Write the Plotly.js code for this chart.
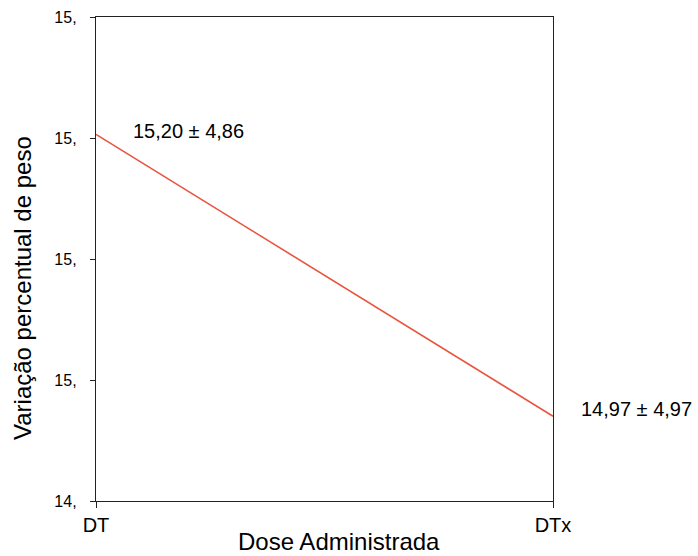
<!DOCTYPE html>
<html><head><meta charset="utf-8">
<script src="https://cdn.plot.ly/plotly-3.0.1.min.js"></script>
<style>body{margin:0;background:#fff}#c{width:698px;height:556px}</style>
</head><body><div id="c"></div>
<script>
const categories = ["DT", "DTx"];
const values = [15.203, 14.97];
const labels = ["15,20 ± 4,86", "14,97 ± 4,97"];
const yTickVals = [14.9, 15.0, 15.1, 15.2, 15.3];
const yTickText = ["14,", "15,", "15,", "15,", "15,"];
const xTitle = "Dose Administrada";
const yTitle = "Variação percentual de peso";

const font = "Liberation Sans, Arial, sans-serif";
const trace = {
  x: [0, 1], y: values, type: "scatter", mode: "lines",
  line: {color: "#E8553E", width: 1.6}, hoverinfo: "skip"
};
const layout = {
  width: 698, height: 556,
  margin: {l: 96, r: 145, t: 17, b: 55},
  paper_bgcolor: "#fff", plot_bgcolor: "#fff",
  showlegend: false,
  font: {family: font, color: "#000"},
  xaxis: {
    range: [0, 1], tickvals: [0, 1], ticktext: categories,
    showgrid: false, zeroline: false, showline: true, mirror: true,
    linecolor: "#222", linewidth: 1.2, ticks: "outside", ticklen: 6, tickcolor: "#222",
    tickfont: {size: 20, family: font}, ticklabelstandoff: 0, fixedrange: true
  },
  yaxis: {
    range: [14.9, 15.3], tickvals: yTickVals, ticktext: yTickText,
    showgrid: false, zeroline: false, showline: true, mirror: true,
    linecolor: "#222", linewidth: 1.2, ticks: "outside", ticklen: 5, tickcolor: "#222",
    tickfont: {size: 16, family: font}, ticklabelstandoff: 10
  },
  annotations: [
    {x: 0, y: values[0], xref: "x", yref: "y", text: labels[0], showarrow: false,
     xanchor: "left", yanchor: "middle", xshift: 35, yshift: 3, font: {size: 20, family: font}},
    {x: 1, y: values[1], xref: "x", yref: "y", text: labels[1], showarrow: false,
     xanchor: "left", yanchor: "middle", xshift: 26, yshift: 7, font: {size: 20, family: font}},
    {x: 339, y: 541, xref: "paper", yref: "paper", text: xTitle, showarrow: false,
     xanchor: "center", yanchor: "middle", font: {size: 24, family: font}},
    {x: 22, y: 288, xref: "paper", yref: "paper", text: yTitle, showarrow: false, textangle: -90,
     xanchor: "center", yanchor: "middle", font: {size: 24, family: font}}
  ]
};
// convert pixel anchors for titles into paper fractions
const pw = layout.width - layout.margin.l - layout.margin.r;
const ph = layout.height - layout.margin.t - layout.margin.b;
[2, 3].forEach(i => {
  const a = layout.annotations[i];
  a.x = (a.x - layout.margin.l) / pw;
  a.y = 1 - (a.y - layout.margin.t) / ph;
});
Plotly.newPlot("c", [trace], layout, {displayModeBar: false, staticPlot: true});
</script></body></html>
